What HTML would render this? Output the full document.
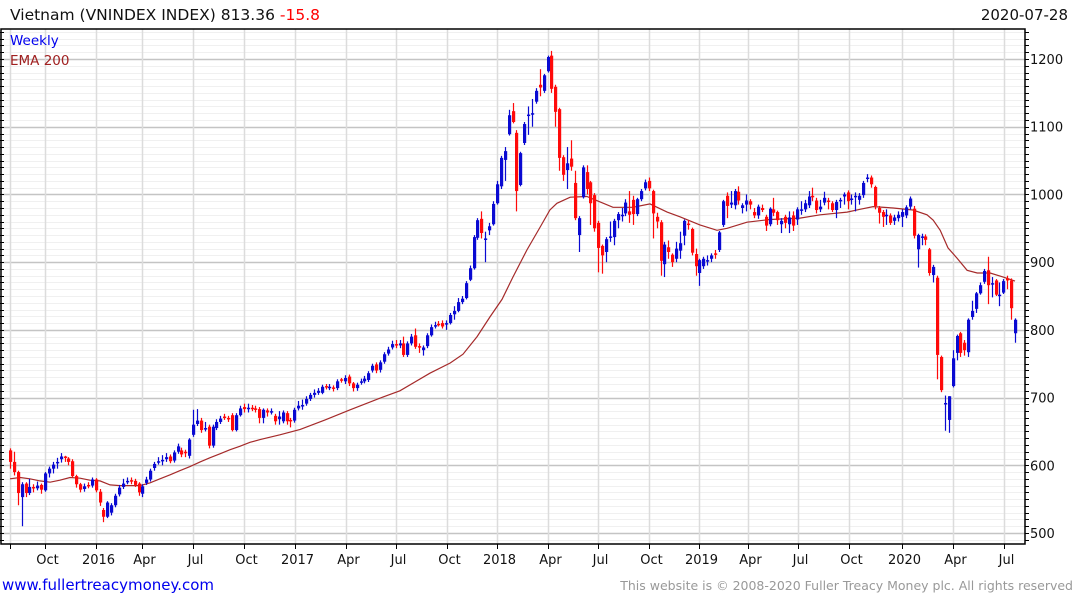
<!DOCTYPE html>
<html><head><meta charset="utf-8"><style>
html,body{margin:0;padding:0;background:#fff;}
svg{display:block;font-family:"DejaVu Sans","Liberation Sans",sans-serif;}
</style></head><body>
<svg id="chart" width="1075" height="600" viewBox="0 0 1075 600" xmlns="http://www.w3.org/2000/svg">
<rect x="0" y="0" width="1075" height="600" fill="#fff"/>
<g id="grid"></g>
<g id="ema"></g>
<g id="candles"></g>
<g id="axes"></g>
<text x="10" y="20" font-size="15.5" fill="#111">Vietnam (VNINDEX INDEX) 813.36 <tspan fill="#ff0000">-15.8</tspan></text>
<text x="1068" y="20" font-size="15" fill="#111" text-anchor="end">2020-07-28</text>
<text x="10" y="45" font-size="13.5" fill="#0000ee">Weekly</text>
<text x="10" y="65" font-size="13.5" fill="#a02020">EMA 200</text>
<text x="2" y="590" font-size="15" fill="#0000ee">www.fullertreacymoney.com</text>
<text x="1073" y="590" font-size="12.5" fill="#999" text-anchor="end">This website is © 2008-2020 Fuller Treacy Money plc. All rights reserved</text>
</svg>
<script>
const opens=[622,605,590,553,573,559,568,566,571,563,588,595,603,609,613,610,606,584,572,565,571,570,579,561,534,524,530,541,557,568,575,578,577,573,558,574,579,596,604,607,609,613,607,620,622,620,614,645,661,666,653,657,629,655,664,672,670,674,652,674,686,684,685,684,683,
670,681,679,673,668,665,677,667,666,684,688,691,698,704,707,707,717,715,715,714,727,724,731,721,714,723,724,726,740,749,741,753,765,774,779,777,780,763,780,792,776,770,776,792,805,809,810,808,810,823,828,841,
847,874,891,936,964,933,947,956,987,1012,1051,1089,1123,1091,1014,1076,1116,1119,1137,1162,1153,1182,1205,1159,1126,1055,1036,1053,1017,940,996,1033,1018,999,958,924,915,936,937,962,969,972,975,992,971,993,1009,1020,1005,967,959,
897,922,911,905,917,939,957,949,912,884,894,901,905,913,918,955,998,985,984,1004,980,985,990,974,969,980,967,956,978,974,956,967,956,969,963,977,978,984,998,991,978,988,991,987,977,990,997,1003,993,997,992,999,1024,1025,1011,980,974,968,969,961,965,967,969,982,979,919,
936,938,919,881,877,760,690,667,717,766,795,781,767,819,831,854,871,888,868,873,850,855,876,873,795];
const highs=[625,620,592,575,575,580,572,576,573,590,598,605,611,618,614,612,609,586,574,573,575,582,581,565,537,547,544,558,571,580,582,582,580,575,572,583,595,605,612,615,618,616,622,632,626,623,640,682,683,670,664,660,660,668,673,676,673,677,677,688,691,691,689,688,686,
684,684,684,676,680,681,680,670,685,695,697,702,707,712,714,719,720,720,718,727,729,733,734,723,722,728,732,739,750,752,755,767,775,784,785,785,790,783,794,802,780,777,795,808,812,813,814,814,825,835,847,850,
872,895,940,965,975,945,958,990,1020,1057,1070,1125,1135,1095,1063,1107,1130,1141,1157,1185,1178,1205,1212,1162,1128,1058,1070,1080,1035,968,1043,1043,1020,1002,961,926,937,960,964,974,980,993,1005,998,995,1008,1022,1025,1007,973,962,
930,932,913,930,945,963,962,951,920,905,908,910,913,918,946,992,1003,1005,1008,1012,987,1000,993,980,985,985,970,981,995,976,965,970,975,975,981,990,992,1005,1010,995,992,1004,995,990,992,995,1003,1006,1000,1003,1002,1020,1030,1028,1013,983,977,978,972,970,975,978,984,997,983,942,
942,941,921,896,880,762,703,702,770,793,797,785,817,843,856,870,890,908,878,875,870,875,880,876,817];
const lows=[595,585,541,510,553,556,560,563,558,561,582,588,595,604,605,600,582,567,560,561,566,567,560,540,516,522,526,538,554,565,572,572,568,555,553,571,576,592,601,600,605,603,604,617,612,612,610,642,658,648,650,625,626,652,661,667,664,650,650,672,678,678,680,678,662,
662,672,675,660,660,662,660,656,663,681,682,688,695,700,704,705,712,711,709,711,722,720,717,709,710,719,721,723,737,736,737,750,762,771,773,773,760,760,777,772,766,762,773,790,802,805,802,800,808,815,826,838,
845,872,889,933,935,900,940,954,985,1008,1020,1087,1105,975,1012,1073,1088,1100,1134,1145,1150,1180,1150,1100,1035,1020,1008,1035,962,915,994,1000,955,945,885,883,900,930,925,950,960,968,958,955,968,990,1006,1005,935,950,880,
878,905,893,900,905,925,948,910,880,865,890,895,900,905,915,952,965,980,978,985,972,975,978,965,964,974,946,953,968,955,943,950,943,946,955,970,974,980,990,972,974,984,978,974,965,980,985,978,985,975,985,995,1018,1010,978,957,952,955,955,955,960,952,965,978,935,892,
925,925,880,870,727,708,651,648,715,755,760,762,760,815,825,852,868,838,848,850,835,853,860,815,781];
const closes=[605,590,559,572,559,568,566,570,564,588,595,601,605,613,612,605,584,572,564,569,570,579,563,545,524,545,541,555,567,573,577,576,571,560,569,579,592,602,606,608,612,606,619,628,616,619,638,660,666,652,655,629,657,664,669,671,669,652,674,684,683,685,684,683,670,
682,678,680,665,672,678,665,666,682,688,689,698,704,707,710,716,716,716,714,724,726,729,721,714,719,724,728,736,747,740,752,764,771,779,778,780,763,780,790,775,774,774,792,804,807,808,805,810,822,828,841,846,
869,891,937,962,943,935,953,986,1015,1054,1064,1117,1107,1005,1061,1104,1118,1120,1153,1158,1176,1203,1156,1122,1054,1029,1046,1041,965,965,1040,1008,987,950,921,910,934,938,961,971,970,988,970,971,993,1005,1018,1009,972,960,902,
926,915,900,920,928,961,955,914,894,903,905,903,910,911,944,990,983,988,1005,991,984,991,985,969,982,977,954,979,973,962,961,958,966,954,978,978,987,997,996,977,982,995,990,977,989,992,1000,990,994,998,998,1017,1025,1015,983,973,967,970,958,966,970,974,981,994,939,940,
938,933,884,893,763,711,692,702,758,791,766,770,815,828,854,866,887,866,869,852,852,872,873,832,815];
const emaWeeks=[0,2.6,5.1,7.7,10.3,12.8,15.4,18,20.5,23.1,25.7,28.2,30.8,33.4,35.9,38.5,41.1,43.6,46.2,48.8,51.3,53.9,56.5,59,61.6,64.2,69.3,74.5,80.9,87.3,95.8,100.1,107.8,113,116.3,119.9,123.2,126.3,129.1,132.7,136.1,138.6,140.4,143.8,148.1,151.5,154.8,159.9,164.3,168.7,172,177.1,181.5,184.1,189.2,195.1,202.8,208,214.9,218.2,221.6,226.7,231.8,235.4,237,238.8,240.8,243.1,245.7,248.3,251.6,255,258];
const emaValues=[580,582,580,577,575,578,582,581,578,577,571,570,570,570,574,580,586,592,598,605,611,617,623,628,634,638,645,653,667,682,701,710,736,751,764,790,819,845,878,918,952,977,987,996,997,989,981,981,986,974,967,955,947,950,959,963,965,970,974,978,982,980,977,970,962,947,921,906,888,884,884,878,872];
const xTickWeeks=[0,9.0,22.1,33.9,47.0,60.1,73.2,86.3,99.1,112.2,125.0,138.1,150.9,164.1,176.9,189.5,202.3,215.4,229.0,242.1,255.2];
const xTickLabels=["","Oct","2016","Apr","Jul","Oct","2017","Apr","Jul","Oct","2018","Apr","Jul","Oct","2019","Apr","Jul","Oct","2020","Apr","Jul"];
const yTickValues=[500,600,700,800,900,1000,1100,1200];

const NS="http://www.w3.org/2000/svg";
const L=1,R=1025,T=29,B=544;
const X0=10,X1=1015;
function xScale(i){return X0+i*(X1-X0)/(closes.length-1);}
function yScale(v){return 533-(v-500)*0.6771;}
function mk(tag,attrs,parent){const e=document.createElementNS(NS,tag);for(const k in attrs)e.setAttribute(k,attrs[k]);parent.appendChild(e);return e;}
const grid=document.getElementById('grid'),axes=document.getElementById('axes'),cg=document.getElementById('candles'),eg=document.getElementById('ema');
for(let v=490;v<=1240;v+=10){
  const y=Math.round(yScale(v))+0.5;if(y<T||y>B)continue;
  const major=v%100===0;
  const ln=mk('line',{x1:L,x2:R,y1:y,y2:y,stroke:major?'#c4c4c4':'#f0f0f0','stroke-width':major?1.5:1},grid);
  
  
  const tk=mk('line',{x1:R,x2:R+4,y1:y,y2:y,stroke:'#000','stroke-width':1},axes);
  
  
  const tl=mk('line',{x1:L-2,x2:L+3,y1:y,y2:y,stroke:'#000','stroke-width':1},axes);
  
  
}
yTickValues.forEach(v=>{
  const t=mk('text',{x:R+5,y:yScale(v)+5,'font-size':13,fill:'#111'},axes);
  t.textContent=v;
  
  
});
xTickWeeks.forEach((w,k)=>{
  const x=Math.round(xScale(w))+0.5;
  const g=mk('line',{x1:x,x2:x,y1:T,y2:B,stroke:'#dcdcdc','stroke-width':1.5},grid);
  
  
  const tk=mk('line',{x1:x,x2:x,y1:B,y2:B+5,stroke:'#000','stroke-width':1},axes);
  
  
  if(xTickLabels[k]){
    const t=mk('text',{x:x+2,y:564,'font-size':13,fill:'#111','text-anchor':'middle'},axes);
    t.textContent=xTickLabels[k];
    
    
  }
});
const frame=mk('rect',{x:L,y:T,width:R-L,height:B-T,fill:'none',stroke:'#000','stroke-width':1.5},axes);


let d='';
emaWeeks.forEach((w,k)=>{d+=(k?'L':'M')+xScale(w).toFixed(1)+' '+yScale(emaValues[k]).toFixed(1);});
const ep=mk('path',{d:d,fill:'none',stroke:'#a52a2a','stroke-width':1.2},eg);


closes.forEach((c,i)=>{
  const o=opens[i],up=c>=o,col=up?'#0a0ad2':'#ff0a0a';
  const x=Math.round(xScale(i));
  const g=mk('g',{},cg);
  
  
  mk('line',{x1:x+0.5,x2:x+0.5,y1:yScale(highs[i]),y2:yScale(lows[i]),stroke:col,'stroke-width':1.2},g);
  const yt=yScale(Math.max(o,c)),yb=yScale(Math.min(o,c));
  mk('rect',{x:x-1,y:yt,width:3.2,height:Math.max(1.5,yb-yt),fill:col},g);
});
</script>
</body></html>
